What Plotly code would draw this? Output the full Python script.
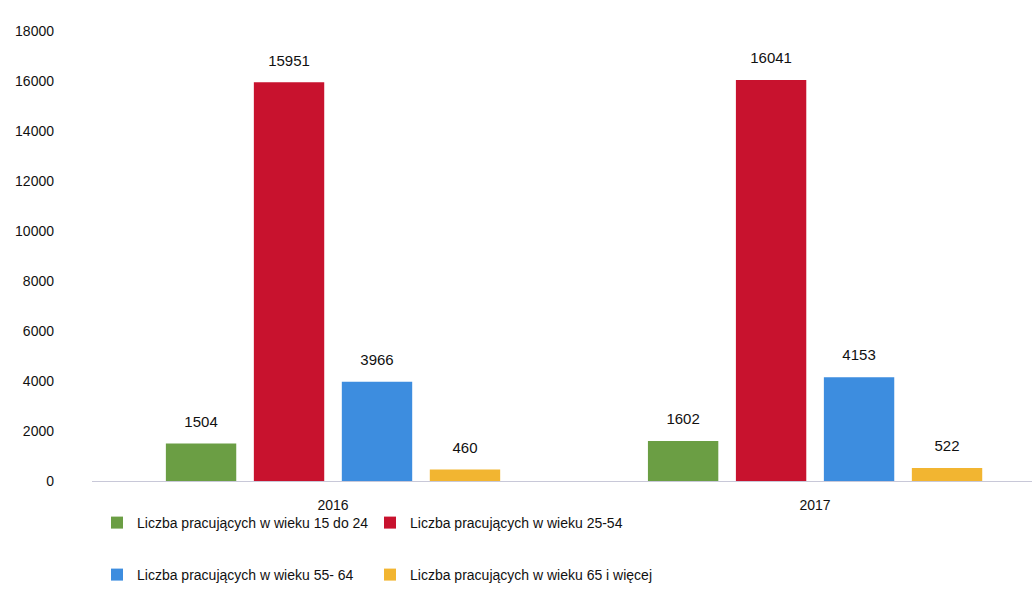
import plotly.graph_objects as go

years = ["2016", "2017"]
series_names = [
    "Liczba pracujących w wieku 15 do 24",
    "Liczba pracujących w wieku 25-54",
    "Liczba pracujących w wieku 55- 64",
    "Liczba pracujących w wieku 65 i więcej",
]
age_15_24 = [1504, 1602]
age_25_54 = [15951, 16041]
age_55_64 = [3966, 4153]
age_65_plus = [460, 522]

colors = ["#6b9e44", "#c8122e", "#3d8ddf", "#f2b531"]
values = [age_15_24, age_25_54, age_55_64, age_65_plus]
legend_ids = ["legend", "legend2", "legend3", "legend4"]

font_family = "Liberation Sans, Arial"
text_color = "#111111"

fig = go.Figure()
for name, vals, col, lg in zip(series_names, values, colors, legend_ids):
    fig.add_trace(go.Bar(
        x=years,
        y=vals,
        name=name,
        marker=dict(color=col, line=dict(width=0)),
        # small blank line under the number lifts it off the bar top
        text=[f"<span style='font-size:15px'>{v}</span><br> " for v in vals],
        textposition="outside",
        textfont=dict(size=9, color=text_color),
        cliponaxis=False,
        legend=lg,
    ))

legend_style = dict(
    orientation="h",
    xref="container",
    yref="container",
    xanchor="left",
    yanchor="middle",
    itemwidth=30,
    font=dict(size=14, color=text_color, family=font_family),
    bgcolor="rgba(0,0,0,0)",
)
W, H = 1032, 616
col_x = [97 / W, 370 / W]
row_y = [1 - 523 / H, 1 - 575 / H]

fig.update_layout(
    width=W,
    height=H,
    margin=dict(l=92, r=0, t=31, b=135),
    paper_bgcolor="white",
    plot_bgcolor="white",
    font=dict(family=font_family, size=14, color=text_color),
    barmode="group",
    bargap=0.27,
    bargroupgap=0.2,
    showlegend=True,
    legend=dict(x=col_x[0], y=row_y[0], **legend_style),
    legend2=dict(x=col_x[1], y=row_y[0], **legend_style),
    legend3=dict(x=col_x[0], y=row_y[1], **legend_style),
    legend4=dict(x=col_x[1], y=row_y[1], **legend_style),
    xaxis=dict(
        range=[-0.5, 1.45],
        automargin=False,
        showgrid=False,
        showline=True,
        linecolor="#c8c8d8",
        linewidth=1,
        ticks="",
        ticklabelstandoff=11,
        tickfont=dict(size=14, color=text_color),
    ),
    yaxis=dict(
        range=[0, 18000],
        dtick=2000,
        tickformat="d",
        automargin=False,
        showgrid=False,
        zeroline=False,
        showline=False,
        ticks="",
        ticklabelstandoff=37,
        tickfont=dict(size=14, color=text_color),
    ),
)

# drop the page's default 8px body margin so the figure sits at 0,0
fig.write_html(
    "out.html",
    config={"displayModeBar": False},
    post_script="document.body.style.margin='0';",
)
